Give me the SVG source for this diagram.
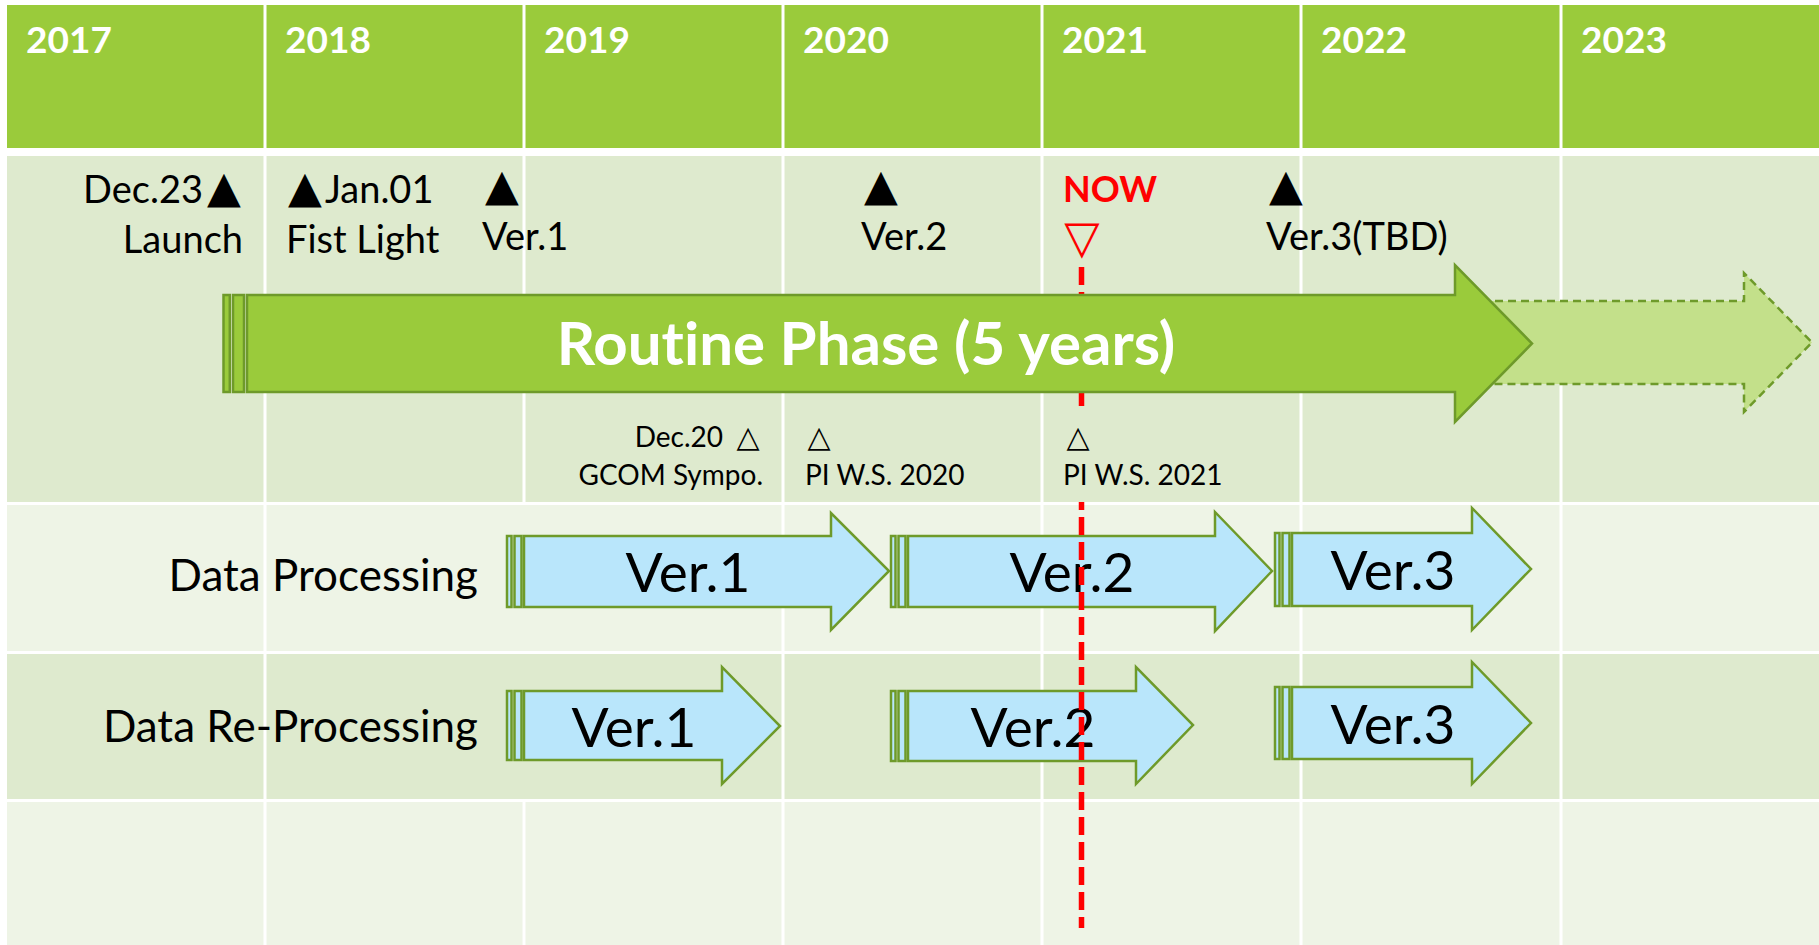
<svg xmlns="http://www.w3.org/2000/svg" width="1819" height="945" viewBox="0 0 1819 945">
<style>
text{font-variant-ligatures:none;font-feature-settings:"liga" 0,"clig" 0}
.t{font-family:Lato,"Liberation Sans",sans-serif;fill:#000}
.yr{font-family:Lato,"Liberation Sans",sans-serif;font-weight:700;font-size:37px;fill:#fff}
.ms{font-size:38px}
.sm{font-size:28px}
.rowlbl{font-size:44px;text-anchor:end}
.vt{font-size:55px;text-anchor:middle}
.tri{font-family:"DejaVu Sans",sans-serif;fill:#000;text-anchor:middle}
.green{fill:#9ACB3B;stroke:#6E9A2A;stroke-width:2.5}
.blue{fill:#B9E6FB;stroke:#6E9A2A;stroke-width:2.5}
.gl{stroke:#fff;stroke-width:3}
</style>
<rect width="1819" height="945" fill="#fff"/>
<g id="grid">
<rect x="7" y="5" width="1812" height="143" fill="#9ACB3B"/>
<rect x="7" y="156" width="1812" height="346" fill="#DEEACE"/>
<rect x="7" y="505" width="1812" height="146" fill="#EEF4E6"/>
<rect x="7" y="654" width="1812" height="145" fill="#DEEACE"/>
<rect x="7" y="802" width="1812" height="143" fill="#EEF4E6"/>
<line class="gl" x1="265" y1="0" x2="265" y2="945"/>
<line class="gl" x1="524" y1="0" x2="524" y2="503"/>
<line class="gl" x1="524" y1="800" x2="524" y2="945"/>
<line class="gl" x1="783" y1="0" x2="783" y2="945"/>
<line class="gl" x1="1042" y1="0" x2="1042" y2="945"/>
<line class="gl" x1="1301" y1="0" x2="1301" y2="945"/>
<line class="gl" x1="1561" y1="0" x2="1561" y2="945"/>
</g>
<g id="years">
<text class="yr" x="26" y="53">2017</text>
<text class="yr" x="285" y="53">2018</text>
<text class="yr" x="544" y="53">2019</text>
<text class="yr" x="803" y="53">2020</text>
<text class="yr" x="1062" y="53">2021</text>
<text class="yr" x="1321" y="53">2022</text>
<text class="yr" x="1581" y="53">2023</text>
</g>
<g id="row-labels">
<text class="t rowlbl" x="478" y="591">Data Processing</text>
<text class="t rowlbl" x="478" y="742">Data Re-Processing</text>
</g>
<g id="data-processing">
<g id="dp-ver1">
<rect class="blue" x="507" y="536" width="4.5" height="71"/>
<rect class="blue" x="514.5" y="536" width="7" height="71"/>
<polygon class="blue" points="524,536 831,536 831,513 889,571 831,630 831,607 524,607"/>
<text class="t vt" x="688" y="592">Ver.1</text>
</g>
<g id="dp-ver2">
<rect class="blue" x="891" y="536" width="4.5" height="71"/>
<rect class="blue" x="898.5" y="536" width="7" height="71"/>
<polygon class="blue" points="908,536 1215,536 1215,512 1272,571 1215,631 1215,607 908,607"/>
<text class="t vt" x="1072" y="592">Ver.2</text>
</g>
<g id="dp-ver3">
<rect class="blue" x="1275" y="533" width="4.5" height="73"/>
<rect class="blue" x="1282.5" y="533" width="7" height="73"/>
<polygon class="blue" points="1292,533 1472,533 1472,508 1531,569 1472,630 1472,606 1292,606"/>
<text class="t vt" x="1393" y="590">Ver.3</text>
</g>
</g>
<g id="data-reprocessing">
<g id="drp-ver1">
<rect class="blue" x="507" y="691" width="4.5" height="69"/>
<rect class="blue" x="514.5" y="691" width="7" height="69"/>
<polygon class="blue" points="524,691 722,691 722,667 780,726 722,784 722,760 524,760"/>
<text class="t vt" x="634" y="747">Ver.1</text>
</g>
<g id="drp-ver2">
<rect class="blue" x="891" y="691" width="4.5" height="70"/>
<rect class="blue" x="898.5" y="691" width="7" height="70"/>
<polygon class="blue" points="908,691 1136,691 1136,667 1193,725 1136,784 1136,761 908,761"/>
<text class="t vt" x="1033" y="747">Ver.2</text>
</g>
<g id="drp-ver3">
<rect class="blue" x="1275" y="687" width="4.5" height="72"/>
<rect class="blue" x="1282.5" y="687" width="7" height="72"/>
<polygon class="blue" points="1292,687 1472,687 1472,662 1531,723 1472,784 1472,759 1292,759"/>
<text class="t vt" x="1393" y="744">Ver.3</text>
</g>
</g>
<g id="now-line">
<line x1="1081.5" y1="267" x2="1081.5" y2="928" stroke="#FF0000" stroke-width="5.5" stroke-dasharray="18 7"/>
</g>
<g id="events">
<g id="gcom-sympo">
<text class="t sm" x="723" y="447" text-anchor="end">Dec.20</text>
<text class="tri" x="748" y="447" font-size="30">△</text>
<text class="t sm" x="763" y="485" text-anchor="end">GCOM Sympo.</text>
</g>
<g id="pi-ws-2020">
<text class="tri" x="819" y="447" font-size="30">△</text>
<text class="t sm" x="805" y="485">PI W.S. 2020</text>
</g>
<g id="pi-ws-2021">
<rect x="1058" y="406" width="170" height="96" fill="#DEEACE"/>
<text class="tri" x="1078" y="447" font-size="30">△</text>
<text class="t sm" x="1063" y="485">PI W.S. 2021</text>
</g>
</g>
<g id="milestones">
<g id="launch">
<text class="t ms" x="203" y="203" text-anchor="end">Dec.23</text>
<text class="tri" x="224" y="202" font-size="44">▲</text>
<text class="t ms" x="243" y="253" text-anchor="end">Launch</text>
</g>
<g id="first-light">
<text class="tri" x="305" y="202" font-size="44">▲</text>
<text class="t ms" x="325" y="203">Jan.01</text>
<text class="t ms" x="286" y="253">Fist Light</text>
</g>
<g id="ms-ver1">
<text class="tri" x="502" y="200" font-size="44">▲</text>
<text class="t ms" x="482" y="250">Ver.1</text>
</g>
<g id="ms-ver2">
<text class="tri" x="881" y="200" font-size="44">▲</text>
<text class="t ms" x="861" y="250">Ver.2</text>
</g>
<g id="now">
<text class="t" x="1063" y="202" font-size="36" font-weight="700" style="fill:#FF0000">NOW</text>
<text class="tri" x="1082" y="253" font-size="46" style="fill:#FF0000">▽</text>
</g>
<g id="ms-ver3">
<text class="tri" x="1286" y="200" font-size="44">▲</text>
<text class="t ms" x="1266" y="250">Ver.3(TBD)</text>
</g>
</g>
<g id="routine-extension">
<polygon points="1300,301 1744,301 1744,273 1812,342.5 1744,412 1744,384 1300,384" fill="#C3E08A" stroke="#6E9A2A" stroke-width="2.5" stroke-dasharray="8 5"/>
</g>
<g id="routine-phase">
<rect class="green" x="223.5" y="295" width="6.3" height="97"/>
<rect class="green" x="233" y="295" width="11" height="97"/>
<polygon class="green" points="247,295 1455,295 1455,265 1532,343.5 1455,422 1455,392 247,392"/>
<text x="866" y="365" text-anchor="middle" font-family="Lato, 'Liberation Sans', sans-serif" font-weight="700" font-size="60" fill="#fff">Routine Phase (5 years)</text>
</g>
</svg>
